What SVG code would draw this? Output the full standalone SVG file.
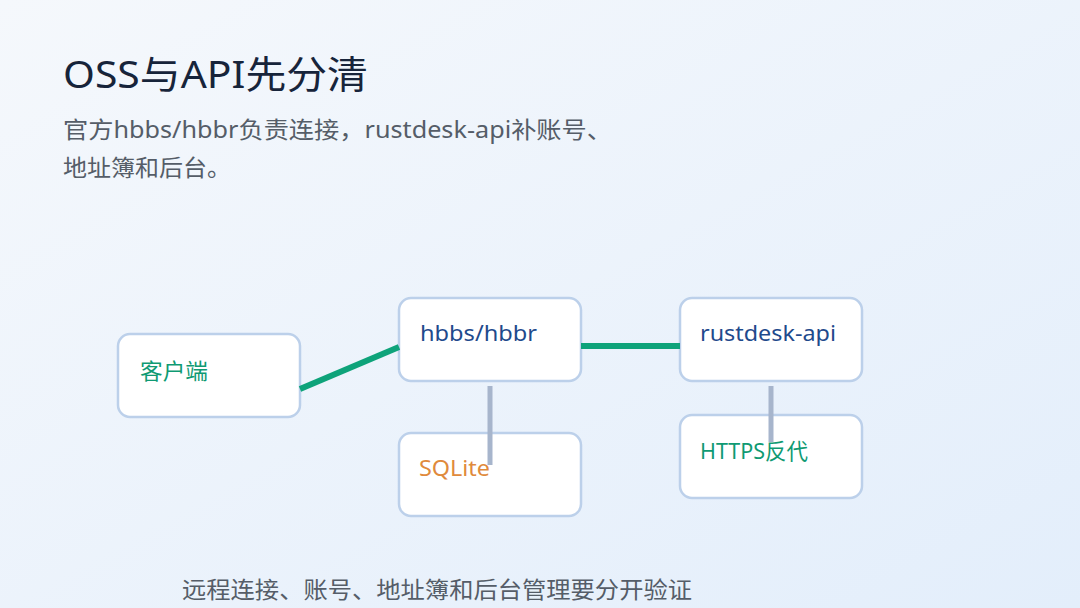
<svg xmlns="http://www.w3.org/2000/svg" width="1080" height="608" viewBox="0 0 1080 608">
<defs>
<linearGradient id="bg" x1="0" y1="0" x2="1" y2="1"><stop offset="0" stop-color="#f5f8fc"/><stop offset="1" stop-color="#e3eefb"/></linearGradient>
<style>
.box{fill:#fff;stroke:#bcd0ea;stroke-width:2.5}
text{font-family:"Noto Sans","Noto Sans CJK SC",sans-serif}
.lbl{font-size:22px}
</style>
</defs>
<rect width="1080" height="608" fill="url(#bg)"/>
<text x="63" y="88" font-size="38" fill="#17243a" textLength="305" lengthAdjust="spacingAndGlyphs">OSS与API先分清</text>
<text x="63" y="138" font-size="23" fill="#555d68" textLength="549" lengthAdjust="spacingAndGlyphs">官方hbbs/hbbr负责连接，rustdesk-api补账号、</text>
<text x="63" y="176" font-size="23" fill="#555d68" textLength="168" lengthAdjust="spacingAndGlyphs">地址簿和后台。</text>
<g id="n-client"><rect class="box" x="118" y="334" width="182" height="83" rx="12"/><text class="lbl" x="140" y="379" fill="#0f9a73" textLength="68" lengthAdjust="spacingAndGlyphs">客户端</text></g>
<g id="n-hbbs"><rect class="box" x="399" y="298" width="182" height="83" rx="12"/><text class="lbl" x="420" y="341" fill="#1f4a8c" textLength="117" lengthAdjust="spacingAndGlyphs">hbbs/hbbr</text></g>
<g id="n-sqlite"><rect class="box" x="399" y="433" width="182" height="83" rx="12"/><text class="lbl" x="419" y="476" fill="#e08a3c" textLength="71" lengthAdjust="spacingAndGlyphs">SQLite</text></g>
<g id="n-api"><rect class="box" x="680" y="298" width="182" height="83" rx="12"/><text class="lbl" x="700" y="341" fill="#1f4a8c" textLength="136" lengthAdjust="spacingAndGlyphs">rustdesk-api</text></g>
<g id="n-https"><rect class="box" x="680" y="415" width="182" height="83" rx="12"/><text class="lbl" x="700" y="459" fill="#0f9a73" textLength="108" lengthAdjust="spacingAndGlyphs">HTTPS反代</text></g>
<g id="connectors">
<line x1="300" y1="389" x2="399" y2="347" stroke="#0ea37a" stroke-width="6"/>
<line x1="581" y1="346" x2="680" y2="346" stroke="#0ea37a" stroke-width="6"/>
<line x1="490" y1="386" x2="490" y2="465" stroke="#a7b5cc" stroke-width="5"/>
<line x1="771" y1="386" x2="771" y2="442" stroke="#a7b5cc" stroke-width="5"/>
</g>
<text x="182" y="598" font-size="23" fill="#555d68" textLength="510" lengthAdjust="spacingAndGlyphs">远程连接、账号、地址簿和后台管理要分开验证</text>
</svg>
